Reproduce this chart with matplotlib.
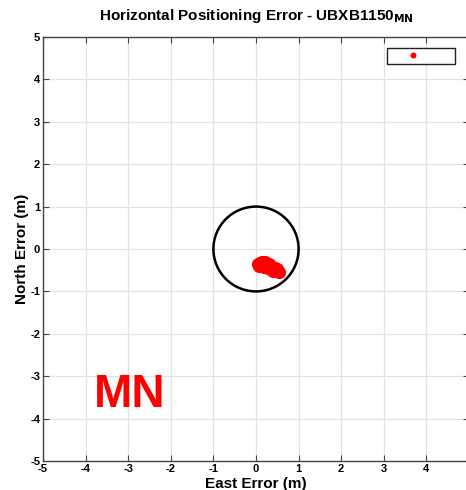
import matplotlib.pyplot as plt
import numpy as np
from matplotlib.patches import Circle

plt.rcParams['font.family'] = ['Liberation Sans', 'DejaVu Sans']
plt.rcParams['axes.unicode_minus'] = False

# horizontal error samples (m)
east_err = [0.05, 0.10, 0.08, 0.15, 0.20, 0.18, 0.25, 0.28, 0.32, 0.35,
            0.38, 0.42, 0.45, 0.48, 0.50, 0.22, 0.30, 0.40, 0.12, 0.55]
north_err = [-0.36, -0.33, -0.40, -0.31, -0.34, -0.42, -0.37, -0.44, -0.40, -0.46,
             -0.42, -0.48, -0.45, -0.52, -0.47, -0.30, -0.35, -0.53, -0.38, -0.55]
ticks = np.arange(-5, 6, 1)
circle_radius = 1.0
title = r'Horizontal Positioning Error - UBXB1150$_{\mathbf{MN}}$'
tag = 'MN'

fig = plt.figure(figsize=(4.66, 4.90), dpi=100)
ax = fig.add_axes([43 / 466, 29 / 490, 426 / 466, 424 / 490])

ax.set_xlim(-5, 5)
ax.set_ylim(-5, 5)
ax.set_xticks(ticks)
ax.set_yticks(ticks)
ax.grid(True, color='#e3e3e3', linewidth=0.9)
ax.set_axisbelow(True)

ax.add_patch(Circle((0, 0), circle_radius, fill=False, edgecolor='black', linewidth=1.8, zorder=2))
pts, = ax.plot(east_err, north_err, 'o', color='red', markersize=9.5, markeredgewidth=0, zorder=3)

ax.text(-2.96, -3.44, tag, color='red', fontsize=33, fontweight='bold', ha='center', va='center')

leg = ax.legend([pts], [''], loc='upper right', bbox_to_anchor=(0.967, 0.974), borderaxespad=0,
                fontsize=8, handlelength=4.1, handletextpad=1.5, borderpad=0.25,
                markerscale=0.45, fancybox=False, framealpha=1)
leg.get_frame().set_edgecolor('#222222')
leg.get_frame().set_linewidth(1.0)

ax.tick_params(direction='in', top=True, right=True, length=4, width=0.8,
               labelsize=8, pad=2, color='#444444')
for lab in ax.get_xticklabels() + ax.get_yticklabels():
    lab.set_fontweight('bold')
for s in ax.spines.values():
    s.set_color('#444444')
    s.set_linewidth(1.0)

ax.set_xlabel('East Error (m)', fontsize=11, fontweight='bold', labelpad=2)
ax.set_ylabel('North Error (m)', fontsize=11, fontweight='bold', labelpad=1)
ax.set_title(title, fontsize=11, fontweight='bold', pad=12)

fig.savefig('out.png', dpi=100)
